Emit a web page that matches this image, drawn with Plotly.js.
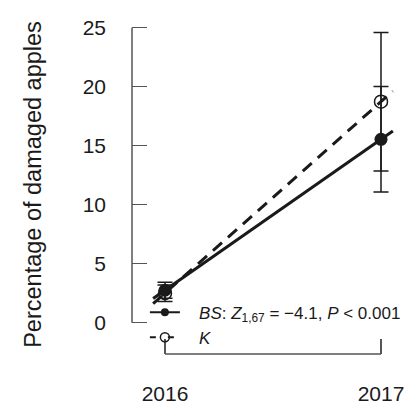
<!DOCTYPE html>
<html>
<head>
<meta charset="utf-8">
<script src="https://cdn.plot.ly/plotly-3.0.1.min.js"></script>
<style>html,body{margin:0;padding:0;background:#fff;}#chart{width:416px;height:408px;}</style>
</head>
<body>
<div id="chart"></div>
<script>
// ---- data ----
const years = [2016, 2017];
const yearLabels = ['2016', '2017'];
const bsMean = [2.75, 15.54];
const bsErr = [0.67, 4.47];
const kMean = [2.5, 18.73];
const kErr = [0.7, 5.87];
const yTicks = [0, 5, 10, 15, 20, 25];
const bsLabel = '\u00A0\u00A0\u00A0<i>BS</i>: <i>Z</i><sub>1,67</sub> = \u22124.1, <i>P</i> &lt; 0.001';
const kLabel = '\u00A0\u00A0\u00A0<i>K</i>';

// regression line through the two means, drawn a little beyond each year
const ext = 0.055;
function lineThrough(m) {
  const slope = (m[1] - m[0]) / (years[1] - years[0]);
  const xs = [years[0] - ext, years[1] + ext];
  return {x: xs, y: xs.map(x => m[0] + slope * (x - years[0]))};
}
const bsLine = lineThrough(bsMean);
const kLine = lineThrough(kMean);

const font = 'Liberation Sans, Arial, Helvetica, sans-serif';
const ink = '#1a1a1a';
const axisCol = '#555';

const traces = [
  {x: kLine.x, y: kLine.y, mode: 'lines', line: {color: ink, width: 3, dash: '12px,8px'}, showlegend: false, hoverinfo: 'skip'},
  {x: bsLine.x, y: bsLine.y, mode: 'lines', line: {color: ink, width: 3}, showlegend: false, hoverinfo: 'skip'},
  {x: years, y: kMean, mode: 'markers', showlegend: false,
   marker: {symbol: 'circle-open', size: 13, color: ink, line: {width: 1.5, color: ink}},
   error_y: {type: 'data', array: kErr, visible: true, color: ink, thickness: 1.5, width: 7.5}},
  {x: years, y: bsMean, mode: 'markers', showlegend: false,
   marker: {symbol: 'circle', size: 13, color: ink},
   error_y: {type: 'data', array: bsErr, visible: true, color: ink, thickness: 1.5, width: 7.5}},
  // legend entries
  {x: [null], y: [null], mode: 'lines+markers', name: bsLabel,
   line: {color: ink, width: 2}, marker: {symbol: 'circle', size: 8, color: ink}},
  {x: [null], y: [null], mode: 'lines+markers', name: kLabel,
   line: {color: ink, width: 2, dash: '6px,12px'}, marker: {symbol: 'circle-open', size: 9, color: ink, line: {width: 1.5, color: ink}}}
];

const layout = {
  width: 416, height: 408,
  margin: {l: 132, r: 21, t: 15, b: 54, autoexpand: false},
  paper_bgcolor: '#fff', plot_bgcolor: '#fff',
  font: {family: font, color: ink},
  showlegend: true,
  legend: {x: 0.049, y: 0.175, xanchor: 'left', yanchor: 'top', bgcolor: 'rgba(0,0,0,0)',
           font: {size: 17, family: font, color: ink}, itemwidth: 30, tracegroupgap: 0},
  xaxis: {
    range: [2015.8472, 2017.0648], showgrid: false, zeroline: false, showline: false,
    tickmode: 'array', tickvals: years, ticktext: yearLabels,
    ticks: 'inside', ticklen: 15, tickwidth: 1.5, tickcolor: axisCol,
    tickfont: {size: 21, family: font, color: ink}, ticklabelstandoff: 25
  },
  yaxis: {
    range: [-2.653, 26.076], showgrid: false, zeroline: false, showline: false,
    tickmode: 'array', tickvals: yTicks, ticktext: yTicks.map(String),
    ticks: 'inside', ticklen: 15, tickwidth: 1.5, tickcolor: axisCol,
    tickfont: {size: 21, family: font, color: ink}, ticklabelstandoff: 25,
    title: {text: 'Percentage of damaged apples', font: {size: 23.5, family: font, color: ink}, standoff: 34}
  },
  shapes: [
    {type: 'line', xref: 'paper', yref: 'y', x0: 0, x1: 0, y0: yTicks[0], y1: yTicks[yTicks.length - 1], line: {color: axisCol, width: 1.5}},
    {type: 'line', xref: 'x', yref: 'paper', x0: years[0], x1: years[1], y0: 0, y1: 0, line: {color: axisCol, width: 1.5}}
  ]
};

Plotly.newPlot('chart', traces, layout, {displayModeBar: false, staticPlot: true});
</script>
</body>
</html>
